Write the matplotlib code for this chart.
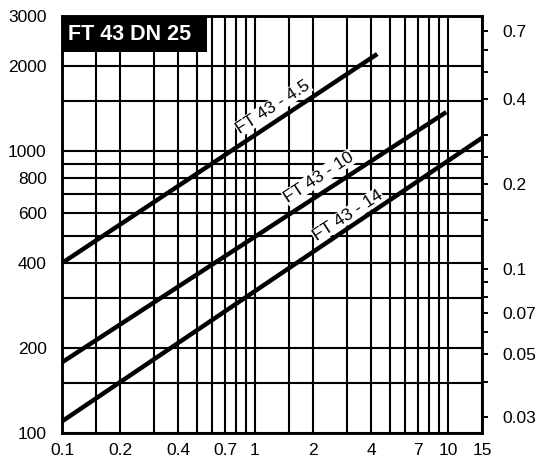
import numpy as np
import matplotlib.pyplot as plt
from matplotlib.patches import Rectangle

plt.rcParams['font.family'] = ['Liberation Sans', 'DejaVu Sans']

# flow curves (straight on log-log)
x_45 = [0.1, 4.3]
y_45 = [400, 2200]
x_10 = [0.1, 9.8]
y_10 = [178, 1370]
x_14 = [0.1, 15]
y_14 = [110, 1110]

# curve labels and where they sit
curve_labels = ['FT 43 - 4.5', 'FT 43 - 10', 'FT 43 - 14']
label_x = [1.24, 2.14, 3.02]
label_y = [1430, 805, 590]

x_ticks = [0.1, 0.2, 0.4, 0.7, 1, 2, 4, 7, 10, 15]
x_grid = [0.15, 0.3, 0.5, 0.6, 0.8, 0.9, 1.5, 3, 5, 6, 8, 9]
y_ticks = [100, 200, 400, 600, 800, 1000, 2000, 3000]
y_grid = [150, 300, 500, 700, 900, 1500]

# right axis (other unit)
r_ticks = [0.03, 0.05, 0.07, 0.1, 0.2, 0.4, 0.7]
r_minor = [0.04, 0.06, 0.08, 0.09, 0.15, 0.25, 0.3, 0.5, 0.6]
ratio = 3800.0

fig = plt.figure(figsize=(5.37, 4.61), dpi=100)
ax = fig.add_axes([0.1155, 0.0607, 0.782, 0.9046])
ax.set_xscale('log')
ax.set_yscale('log')
ax.set_xlim(0.1, 15)
ax.set_ylim(100, 3000)

ax.set_xticks(x_ticks)
ax.set_xticklabels([f'{v:g}' for v in x_ticks])
ax.set_xticks(x_grid, minor=True)
ax.set_xticklabels([], minor=True)
ax.set_yticks(y_ticks)
ax.set_yticklabels([f'{v:g}' for v in y_ticks])
ax.set_yticks(y_grid, minor=True)
ax.set_yticklabels([], minor=True)
ax.tick_params(which='both', length=0, labelsize=12.5)
ax.tick_params(axis='y', pad=11)
ax.tick_params(axis='x', pad=7)
ax.grid(which='both', color='black', lw=1.5)
for s in ax.spines.values():
    s.set_linewidth(1.8)

ax.plot(x_45, y_45, color='black', lw=3.2, solid_capstyle='butt', zorder=4)
ax.plot(x_10, y_10, color='black', lw=3.2, solid_capstyle='butt', zorder=4)
ax.plot(x_14, y_14, color='black', lw=3.2, solid_capstyle='butt', zorder=4)

for t, lx, ly in zip(curve_labels, label_x, label_y):
    ax.text(lx, ly, t, rotation=33, rotation_mode='anchor', ha='center', va='center',
            fontsize=12.5, zorder=3,
            bbox=dict(facecolor='white', edgecolor='none', pad=0.5))

# title box
ax.add_patch(Rectangle((0, 0.9137), 0.345, 0.0863, transform=ax.transAxes,
                       facecolor='black', edgecolor='none', zorder=5))
ax.text(0.014, 0.9568, 'FT 43 DN 25', transform=ax.transAxes, color='white',
        fontsize=15.5, fontweight='bold', ha='left', va='center', zorder=6)

ax2 = ax.twinx()
ax2.set_yscale('log')
ax2.set_ylim(100 / ratio, 3000 / ratio)
ax2.set_yticks(r_ticks)
ax2.set_yticklabels([f'{v:g}' for v in r_ticks])
ax2.set_yticks(r_minor, minor=True)
ax2.set_yticklabels([], minor=True)
ax2.tick_params(which='both', direction='out', length=4, width=1.4, labelsize=12.5, pad=11)
for s in ax2.spines.values():
    s.set_linewidth(1.8)

fig.savefig('out.png', dpi=100)
